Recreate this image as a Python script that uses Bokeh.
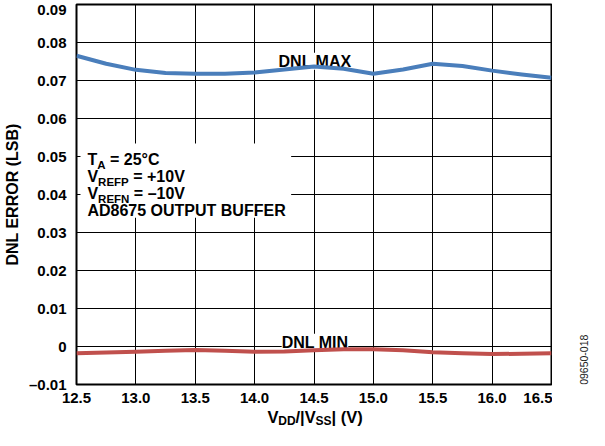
from bokeh.plotting import figure
from bokeh.layouts import row
from bokeh.models import Label, BoxAnnotation, FixedTicker, Range1d, LinearAxis
from bokeh.embed import file_html
from bokeh.resources import INLINE

# ---- data ----
vdd = [12.5, 12.75, 13.0, 13.25, 13.5, 13.75, 14.0, 14.25, 14.5,
       14.75, 15.0, 15.25, 15.5, 15.75, 16.0, 16.25, 16.5]
dnl_max = [0.0765, 0.0744, 0.0728, 0.0720, 0.0718, 0.0718, 0.0721, 0.0729, 0.0737,
           0.0731, 0.0718, 0.0729, 0.0744, 0.0738, 0.0726, 0.0716, 0.0707]
dnl_min = [-0.0018, -0.0016, -0.0014, -0.0011, -0.0009, -0.0011, -0.0014, -0.0013, -0.0010,
           -0.0007, -0.0007, -0.0010, -0.0015, -0.0018, -0.0020, -0.0019, -0.0018]

x_ticks = [12.5, 13.0, 13.5, 14.0, 14.5, 15.0, 15.5, 16.0, 16.5]
x_tick_labels = ["12.5", "13.0", "13.5", "14.0", "14.5", "15.0", "15.5", "16.0", "16.5"]
y_ticks = [-0.01, 0, 0.01, 0.02, 0.03, 0.04, 0.05, 0.06, 0.07, 0.08, 0.09]
y_tick_labels = ["\u20130.01", "0", "0.01", "0.02", "0.03", "0.04", "0.05",
                 "0.06", "0.07", "0.08", "0.09"]

X0, X1 = 12.5, 16.5
Y0, Y1 = -0.01, 0.09
FW, FH = 478, 383
FONT = "Liberation Sans"
BLUE = "#4a7ebb"
RED = "#c0504d"


def dx(px):
    return px * (X1 - X0) / FW


def dy(px):
    return px * (Y1 - Y0) / FH


p = figure(width=552, height=430, x_range=Range1d(X0, X1), y_range=Range1d(Y0, Y1),
           output_backend="svg", toolbar_location=None,
           min_border_left=73, min_border_right=1, min_border_top=4, min_border_bottom=43)

p.outline_line_color = "black"
p.outline_line_width = 2
p.background_fill_color = "white"
p.border_fill_color = "white"

p.xaxis.ticker = FixedTicker(ticks=x_ticks)
p.yaxis.ticker = FixedTicker(ticks=y_ticks)
p.xaxis.major_label_overrides = {t: l for t, l in zip(x_ticks, x_tick_labels)}
p.yaxis.major_label_overrides = {t: l for t, l in zip(y_ticks, y_tick_labels)}


def plain_axis(ax, size):
    ax.axis_line_color = None
    ax.major_tick_line_color = None
    ax.minor_tick_line_color = None
    ax.major_label_text_font = FONT
    ax.major_label_text_font_style = "bold"
    ax.major_label_text_font_size = size
    ax.major_label_text_color = "black"
    ax.major_tick_out = 0
    ax.major_tick_in = 0


plain_axis(p.xaxis[0], "15px")
plain_axis(p.yaxis[0], "15px")

p.xaxis.major_label_standoff = 8
p.yaxis.major_label_standoff = 10
p.yaxis.axis_label = "DNL ERROR (LSB)"
p.yaxis.axis_label_text_font = FONT
p.yaxis.axis_label_text_font_style = "bold"
p.yaxis.axis_label_text_font_size = "16px"
p.yaxis.axis_label_text_color = "black"
p.yaxis.axis_label_standoff = 5

p.xgrid.grid_line_color = "black"
p.ygrid.grid_line_color = "black"
p.xgrid.grid_line_width = 1
p.ygrid.grid_line_width = 1

p.line(vdd, dnl_max, line_color=BLUE, line_width=4, line_join="round")
p.line(vdd, dnl_min, line_color=RED, line_width=4, line_join="round")

# white box behind the conditions block
p.add_layout(BoxAnnotation(left=X0 + dx(4), right=X0 + dx(216),
                           top=Y1 - dy(140), bottom=Y1 - dy(215),
                           fill_color="white", fill_alpha=1.0, line_color=None,
                           level="underlay"))

# Arial/Liberation Sans Bold advance widths (per 1000 em)
W = {" ": 278, "(": 333, ")": 333, "+": 584, "-": 333, ".": 278, "/": 278, "=": 584,
     "\u00b0": 400, "|": 280, "\u2013": 556,
     "0": 556, "1": 556, "2": 556, "5": 556, "6": 556, "7": 556, "8": 556,
     "A": 722, "B": 722, "C": 722, "D": 722, "E": 667, "F": 611, "N": 722,
     "O": 778, "P": 667, "R": 722, "S": 667, "T": 611, "U": 722, "V": 667}

MAIN = 16
SUB = 11.5


def tw(s, size):
    return sum(W.get(c, 556) for c in s) * size / 1000.0


def rich(x, y, parts):
    off = 0.0
    for t, sub in parts:
        size = SUB if sub else MAIN
        lead = len(t) - len(t.lstrip(" "))
        off += tw(" " * lead, size)
        t2 = t.lstrip(" ")
        p.add_layout(Label(x=x, y=y - (dy(5) if sub else 0), x_offset=off, text=t2,
                           text_font=FONT, text_font_style="bold",
                           text_font_size=f"{size}px", text_color="black",
                           text_baseline="alphabetic", text_align="left"))
        off += tw(t2, size)
    return off


bx = X0 + dx(11)
rich(bx, Y1 - dy(156.3), [("T", False), ("A", True), (" = 25\u00b0C", False)])
rich(bx, Y1 - dy(173.7), [("V", False), ("REFP", True), (" = +10V", False)])
rich(bx, Y1 - dy(190.7), [("V", False), ("REFN", True), (" = \u201310V", False)])
rich(bx, Y1 - dy(207.3), [("AD8675 OUTPUT BUFFER", False)])

# curve labels (behind the curves, in front of the grid)
for txt, yy in (("DNL MAX", Y1 - dy(57.3)), ("DNL MIN", Y1 - dy(340.4))):
    p.add_layout(Label(x=14.5 + dx(1), y=yy, text=txt, text_font=FONT,
                       text_font_style="bold", text_font_size="16px", text_color="black",
                       text_align="center", text_baseline="alphabetic",
                       background_fill_color="white", background_fill_alpha=1.0,
                       level="underlay"))

# x-axis title with subscripts: pieces set as labels of two extra bottom axes
T_MAIN, T_SUB = 16.5, 12
title_parts = [("V", False), ("DD", True), ("/|V", False), ("SS", True), ("| (V)", False)]
total = sum(tw(t, T_SUB if s else T_MAIN) for t, s in title_parts)
start = (X0 + X1) / 2 + dx(1) - dx(total / 2)
main_ticks, main_labels, sub_ticks, sub_labels = [], [], [], []
acc = 0.0
for t, s in title_parts:
    w = tw(t, T_SUB if s else T_MAIN)
    c = start + dx(acc + w / 2)
    (sub_ticks if s else main_ticks).append(c)
    (sub_labels if s else main_labels).append(t)
    acc += w

ax_main = LinearAxis(ticker=FixedTicker(ticks=main_ticks),
                     major_label_overrides=dict(zip(main_ticks, main_labels)))
plain_axis(ax_main, f"{T_MAIN}px")
ax_main.major_label_standoff = 2
ax_sub = LinearAxis(ticker=FixedTicker(ticks=sub_ticks),
                    major_label_overrides=dict(zip(sub_ticks, sub_labels)))
plain_axis(ax_sub, f"{T_SUB}px")
ax_sub.major_label_standoff = -15
p.add_layout(ax_main, "below")
p.add_layout(ax_sub, "below")

# narrow side panel holding the rotated figure code
q = figure(width=37, height=430, x_range=Range1d(0, 37), y_range=Range1d(0, 430),
           output_backend="svg", toolbar_location=None,
           x_axis_location=None, y_axis_location=None,
           min_border_left=0, min_border_right=0, min_border_top=0, min_border_bottom=0)
q.outline_line_color = None
q.xgrid.visible = False
q.ygrid.visible = False
q.background_fill_color = "white"
q.border_fill_color = "white"
q.add_layout(Label(x=31, y=28, text="09650-018", angle=1.5707963,
                   text_font=FONT, text_font_size="10.5px", text_color="#222222",
                   text_align="center", text_baseline="middle"))

layout = row(p, q, spacing=0)
open("out.html", "w").write(file_html(layout, INLINE))
